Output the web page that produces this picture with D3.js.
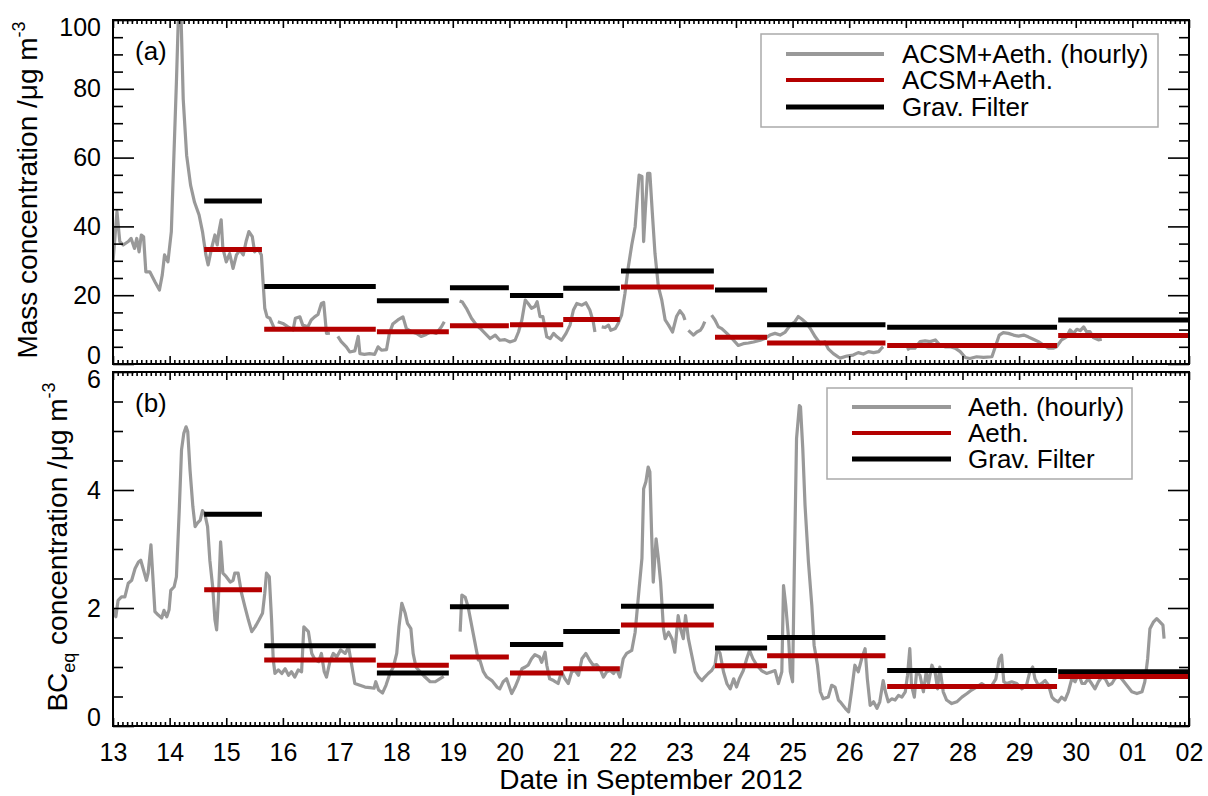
<!DOCTYPE html>
<html>
<head>
<meta charset="utf-8">
<script src="https://cdn.jsdelivr.net/npm/d3@7"></script>
<style>
  body { margin: 0; background: #fff; }
  svg text { font-family: 'Liberation Sans', Arial, Helvetica, sans-serif; fill: #000; }
</style>
</head>
<body>
<svg id="chart" width="1208" height="796"></svg>
<script>
// sampling periods of the gravimetric filters (day of Sept 2012, 32 = 2 Oct)
const periodStart = [14.61, 15.67, 17.66, 18.95, 20.01, 20.95, 21.97, 23.63, 24.55, 26.67, 29.69];
const periodEnd = [15.63, 17.64, 18.93, 19.99, 20.95, 21.95, 23.61, 24.55, 26.64, 29.67, 32.0];

// panel (a) filter-period averages
const massFilter = [47.4, 22.5, 18.4, 22.2, 19.9, 22.0, 27.0, 21.5, 11.4, 10.7, 12.8];
const massAcsm = [33.3, 10.1, 9.4, 11.1, 11.4, 12.9, 22.4, 7.8, 6.1, 5.4, 8.3];

// panel (b) filter-period averages
const bcFilter = [3.59, 1.36, 0.90, 2.02, 1.38, 1.60, 2.03, 1.32, 1.50, 0.94, 0.92];
const bcAeth = [2.31, 1.12, 1.03, 1.17, 0.90, 0.97, 1.71, 1.02, 1.19, 0.67, 0.84];

// hourly series [day, value]; null = gap in the record
const massHourly = [[13.00,29.7],[13.07,44.3],[13.12,35.6],[13.18,34.6],[13.27,35.6],[13.32,36.5],[13.38,33.6],[13.42,36.5],[13.46,32.6],[13.50,37.5],[13.54,37.0],[13.58,26.8],[13.65,26.8],[13.74,23.9],[13.82,21.5],[13.87,25.9],[13.91,31.7],[13.97,29.7],[14.03,38.5],[14.07,57.9],[14.12,82.0],[14.16,104],[14.20,102],[14.24,77.0],[14.30,60.7],[14.37,52.0],[14.44,47.0],[14.52,43.3],[14.58,38.5],[14.64,31.7],[14.68,28.8],[14.74,33.6],[14.80,37.5],[14.84,34.6],[14.87,38.5],[14.91,41.9],[14.94,33.6],[15.00,29.7],[15.06,32.1],[15.12,27.8],[15.18,31.7],[15.24,33.1],[15.30,31.7],[15.35,35.6],[15.40,38.5],[15.46,37.0],[15.50,32.6],[15.56,33.6],[15.62,31.7],[15.65,23.9],[15.68,16.2],[15.72,13.7],[15.77,13.3],[15.81,11.8],[15.85,10.3],[15.88,null],[15.91,12.3],[16.00,11.8],[16.09,10.8],[16.18,9.9],[16.22,13.3],[16.30,13.7],[16.35,11.3],[16.44,10.8],[16.50,12.8],[16.56,13.7],[16.62,14.4],[16.68,17.6],[16.72,17.9],[16.77,8.9],[16.83,9.0],[16.90,null],[16.97,8.0],[17.03,6.5],[17.12,5.0],[17.18,3.5],[17.27,3.8],[17.33,8.0],[17.36,3.0],[17.44,2.8],[17.53,3.0],[17.62,2.8],[17.68,5.0],[17.74,4.0],[17.83,4.2],[17.88,8.9],[17.94,11.6],[18.03,12.8],[18.12,13.7],[18.18,10.3],[18.27,9.4],[18.36,8.9],[18.44,8.0],[18.53,8.6],[18.62,9.4],[18.71,8.9],[18.80,10.8],[18.85,12.3],[18.95,null],[19.12,18.3],[19.17,18.0],[19.24,16.2],[19.33,13.3],[19.42,11.3],[19.48,10.4],[19.57,8.9],[19.66,7.4],[19.75,8.4],[19.83,6.9],[19.92,7.1],[20.01,6.4],[20.10,6.9],[20.16,9.3],[20.22,12.8],[20.28,18.6],[20.33,17.6],[20.39,16.2],[20.45,16.7],[20.49,18.1],[20.54,13.8],[20.59,13.8],[20.66,7.9],[20.72,7.4],[20.78,8.9],[20.84,7.9],[20.92,6.9],[21.00,8.9],[21.07,11.3],[21.13,15.7],[21.19,17.6],[21.28,17.1],[21.35,17.8],[21.42,15.7],[21.48,12.3],[21.51,9.3],[21.57,null],[21.63,10.8],[21.69,10.6],[21.75,11.3],[21.79,9.8],[21.87,10.3],[21.92,11.8],[21.98,14.2],[22.04,20.5],[22.10,28.3],[22.16,34.6],[22.22,39.9],[22.26,48.7],[22.29,54.9],[22.34,54.5],[22.37,35.6],[22.40,44.8],[22.44,55.4],[22.48,55.4],[22.52,44.8],[22.57,32.2],[22.63,22.5],[22.69,18.6],[22.75,12.8],[22.81,11.3],[22.88,9.3],[22.95,13.8],[23.01,15.5],[23.07,14.2],[23.10,12.8],[23.13,null],[23.16,9.8],[23.25,8.4],[23.31,9.3],[23.37,9.8],[23.41,10.8],[23.45,12.3],[23.51,null],[23.57,14.2],[23.63,12.8],[23.69,10.8],[23.75,10.3],[23.84,8.9],[23.93,7.4],[24.04,5.4],[24.13,5.9],[24.22,6.1],[24.31,6.4],[24.43,6.9],[24.51,7.4],[24.60,8.4],[24.69,8.9],[24.78,8.4],[24.87,9.3],[24.96,11.3],[25.04,12.3],[25.10,13.8],[25.16,13.1],[25.25,11.8],[25.31,10.4],[25.40,7.9],[25.49,5.9],[25.57,6.4],[25.63,4.4],[25.72,3.0],[25.81,2.0],[25.84,1.7],[25.96,2.3],[26.07,2.6],[26.16,3.3],[26.25,2.9],[26.34,3.6],[26.43,3.3],[26.52,3.6],[26.57,4.6],[26.60,5.0],[26.80,null],[27.02,4.1],[27.07,4.6],[27.16,4.6],[27.25,6.5],[27.34,6.7],[27.43,6.5],[27.52,7.0],[27.60,5.5],[27.69,5.0],[27.78,5.0],[27.87,4.6],[27.96,3.6],[28.05,1.9],[28.13,1.6],[28.25,2.1],[28.37,1.9],[28.52,2.1],[28.58,5.0],[28.65,8.4],[28.72,9.1],[28.81,8.9],[28.90,8.4],[28.99,8.1],[29.08,8.4],[29.16,7.9],[29.25,7.2],[29.34,6.5],[29.43,5.5],[29.52,4.6],[29.61,4.6],[29.66,5.0],[29.75,7.0],[29.84,7.9],[29.90,9.9],[29.96,8.9],[30.02,10.1],[30.08,9.7],[30.14,10.8],[30.19,9.4],[30.25,9.4],[30.31,7.7],[30.40,7.0],[30.46,7.2]];

const bcHourly = [[13.00,1.99],[13.05,1.85],[13.09,2.13],[13.15,2.19],[13.21,2.19],[13.27,2.42],[13.33,2.47],[13.39,2.67],[13.45,2.78],[13.49,2.81],[13.54,2.64],[13.59,2.47],[13.62,2.59],[13.67,3.07],[13.70,2.59],[13.74,1.94],[13.80,1.88],[13.86,1.83],[13.90,1.96],[13.95,1.85],[13.99,1.97],[14.02,2.30],[14.08,2.36],[14.12,2.53],[14.17,3.66],[14.21,4.68],[14.25,4.96],[14.29,5.07],[14.32,4.99],[14.36,4.34],[14.41,3.72],[14.45,3.38],[14.49,3.44],[14.54,3.49],[14.58,3.65],[14.62,3.60],[14.67,3.38],[14.71,2.81],[14.76,2.36],[14.80,1.80],[14.83,1.63],[14.86,2.13],[14.90,3.12],[14.94,2.59],[15.00,2.53],[15.07,2.44],[15.12,2.47],[15.15,2.59],[15.21,2.59],[15.27,2.25],[15.33,2.02],[15.39,1.80],[15.45,1.60],[15.51,1.68],[15.58,1.80],[15.64,1.91],[15.68,2.25],[15.71,2.59],[15.76,2.53],[15.80,1.80],[15.83,1.12],[15.86,0.89],[15.92,0.95],[15.98,0.89],[16.04,0.97],[16.10,0.86],[16.15,0.92],[16.21,0.83],[16.27,0.95],[16.33,0.92],[16.37,1.68],[16.45,1.60],[16.51,1.23],[16.57,1.12],[16.63,1.09],[16.68,1.23],[16.73,0.92],[16.77,0.83],[16.83,1.09],[16.89,1.23],[16.95,1.17],[17.02,1.29],[17.10,1.23],[17.16,1.34],[17.21,1.06],[17.27,0.72],[17.36,0.69],[17.45,0.66],[17.54,0.65],[17.61,0.64],[17.64,0.75],[17.69,0.61],[17.76,0.56],[17.82,0.69],[17.89,0.89],[17.95,1.00],[18.01,1.23],[18.05,1.68],[18.10,2.08],[18.16,1.91],[18.20,1.74],[18.26,1.65],[18.30,1.23],[18.35,1.00],[18.42,0.92],[18.51,0.83],[18.60,0.75],[18.69,0.75],[18.77,0.80],[18.84,0.84],[19.00,null],[19.13,1.60],[19.16,2.22],[19.22,2.18],[19.27,2.02],[19.36,1.57],[19.45,1.12],[19.48,1.11],[19.54,0.92],[19.60,0.83],[19.69,0.77],[19.78,0.66],[19.83,0.63],[19.89,0.75],[19.95,0.80],[20.00,0.66],[20.04,0.55],[20.10,0.66],[20.16,0.80],[20.22,0.97],[20.28,1.00],[20.33,1.03],[20.39,1.14],[20.45,1.21],[20.53,1.17],[20.57,1.08],[20.63,1.25],[20.66,1.03],[20.71,0.80],[20.78,0.77],[20.86,0.72],[20.92,0.92],[20.98,0.80],[21.04,0.72],[21.10,0.92],[21.16,0.94],[21.22,0.86],[21.28,1.14],[21.35,1.23],[21.42,1.11],[21.48,1.03],[21.54,1.04],[21.60,0.97],[21.66,0.83],[21.72,0.92],[21.78,0.94],[21.84,0.89],[21.89,0.97],[21.95,0.83],[22.01,1.14],[22.07,1.23],[22.16,1.28],[22.22,1.59],[22.29,2.33],[22.34,2.84],[22.37,4.02],[22.41,4.14],[22.45,4.39],[22.48,4.31],[22.51,3.29],[22.54,2.44],[22.59,3.17],[22.63,2.84],[22.67,2.44],[22.72,1.65],[22.75,1.48],[22.81,1.59],[22.87,1.48],[22.92,1.25],[22.98,1.87],[23.02,1.65],[23.07,1.48],[23.11,1.87],[23.16,1.48],[23.22,1.20],[23.28,0.92],[23.34,0.83],[23.40,0.77],[23.45,0.83],[23.51,0.89],[23.57,0.94],[23.63,1.03],[23.67,1.31],[23.72,1.23],[23.78,0.92],[23.84,0.72],[23.90,0.63],[23.96,0.80],[24.01,0.66],[24.06,0.80],[24.13,0.94],[24.19,1.14],[24.24,1.28],[24.30,1.14],[24.37,1.03],[24.45,0.94],[24.54,0.89],[24.63,0.92],[24.69,0.94],[24.75,0.72],[24.81,0.92],[24.84,2.38],[24.88,2.04],[24.93,1.48],[24.96,0.92],[25.00,0.75],[25.03,2.61],[25.07,4.87],[25.12,5.43],[25.14,5.41],[25.18,4.70],[25.22,3.74],[25.28,2.78],[25.34,2.04],[25.38,1.37],[25.44,1.03],[25.49,0.58],[25.54,0.46],[25.63,0.49],[25.69,0.69],[25.75,0.66],[25.81,0.44],[25.84,0.41],[25.93,0.30],[25.99,0.24],[26.04,0.58],[26.10,1.03],[26.16,0.92],[26.22,1.14],[26.28,1.31],[26.32,0.80],[26.37,0.35],[26.43,0.41],[26.49,0.30],[26.54,0.41],[26.60,0.77],[26.64,0.58],[26.69,0.41],[26.75,0.46],[26.81,0.44],[26.87,0.52],[26.93,0.49],[26.99,0.58],[27.03,0.86],[27.07,1.31],[27.10,0.69],[27.15,0.49],[27.19,0.92],[27.25,0.86],[27.31,0.58],[27.36,0.92],[27.40,0.72],[27.46,1.03],[27.52,0.89],[27.56,0.63],[27.60,1.00],[27.66,0.58],[27.72,0.44],[27.81,0.38],[27.90,0.41],[27.99,0.49],[28.08,0.55],[28.16,0.61],[28.25,0.66],[28.34,0.72],[28.43,0.66],[28.52,0.69],[28.59,0.80],[28.65,1.14],[28.69,1.20],[28.73,0.75],[28.78,0.72],[28.87,0.75],[28.96,0.72],[29.05,0.63],[29.13,0.69],[29.19,0.92],[29.24,1.00],[29.28,0.80],[29.34,0.69],[29.40,0.72],[29.46,0.77],[29.52,0.69],[29.58,0.49],[29.63,0.44],[29.69,0.41],[29.75,0.49],[29.81,0.44],[29.87,0.58],[29.93,0.80],[29.99,0.75],[30.05,0.89],[30.11,0.72],[30.16,0.72],[30.22,0.80],[30.28,0.72],[30.34,0.63],[30.40,0.75],[30.46,0.83],[30.52,0.80],[30.58,0.69],[30.64,0.72],[30.69,0.80],[30.75,0.86],[30.81,0.80],[30.90,0.69],[30.99,0.58],[31.08,0.55],[31.17,0.58],[31.22,0.75],[31.27,1.14],[31.31,1.65],[31.37,1.76],[31.43,1.82],[31.49,1.76],[31.54,1.71],[31.56,1.48]];

const dayTicks = [13, 14, 15, 16, 17, 18, 19, 20, 21, 22, 23, 24, 25, 26, 27, 28, 29, 30, 31, 32];
const dayLabels = ['13', '14', '15', '16', '17', '18', '19', '20', '21', '22', '23', '24', '25', '26', '27', '28', '29', '30', '01', '02'];
const massTicks = [0, 20, 40, 60, 80, 100];
const bcTicks = [0, 2, 4, 6];
const legendA = ['ACSM+Aeth. (hourly)', 'ACSM+Aeth.', 'Grav. Filter'];
const legendB = ['Aeth. (hourly)', 'Aeth.', 'Grav. Filter'];

const GRAY = '#999999';
const RED = '#b40000';
const left = 113, right = 1189;

const svg = d3.select('#chart');
const x = d3.scaleLinear().domain([13, 32]).range([left, right]);
const minorDays = d3.range(13, 32, 1 / 12).filter((d) => Math.abs(d - Math.round(d)) > 1e-6);

const panels = [
  { key: 'a', top: 20, bottom: 364, domain: [0, 100], major: massTicks, minorStep: 5, hourly: massHourly, avg: massAcsm, filter: massFilter, tag: '(a)', tagY: 60, legend: legendA, box: { x: 761, y: 34, w: 397, h: 93 }, lineX: [786, 884], textX: 902, rows: [54, 80, 107], labels: false },
  { key: 'b', top: 372, bottom: 726, domain: [0, 6], major: bcTicks, minorStep: 0.5, hourly: bcHourly, avg: bcAeth, filter: bcFilter, tag: '(b)', tagY: 412, legend: legendB, box: { x: 827, y: 388, w: 305, h: 91 }, lineX: [852, 951], textX: 968, rows: [407, 433, 459], labels: true }
];

function styleAxis(g) {
  g.select('.domain').remove();
  g.selectAll('.tick line').attr('stroke', '#000').attr('stroke-width', 1.6);
  g.selectAll('.tick text').style('font-size', '25px').attr('fill', '#000');
}

panels.forEach((p) => {
  const y = d3.scaleLinear().domain(p.domain).range([p.bottom, p.top]);
  const minorY = d3.range(p.domain[0], p.domain[1] + 1e-9, p.minorStep).filter((v) => !p.major.includes(+v.toFixed(3)));
  const g = svg.append('g').attr('class', `panel-${p.key}`);

  g.append('clipPath').attr('id', `clip-${p.key}`)
    .append('rect').attr('x', left).attr('y', p.top).attr('width', right - left).attr('height', p.bottom - p.top);

  // hourly trace
  const line = d3.line().defined((d) => d[1] !== null).x((d) => x(d[0])).y((d) => y(d[1]));
  g.append('path').datum(p.hourly).attr('clip-path', `url(#clip-${p.key})`)
    .attr('fill', 'none').attr('stroke', GRAY).attr('stroke-width', 3.2).attr('stroke-linejoin', 'round').attr('d', line);

  // filter-period averages
  const periods = periodStart.map((s, i) => ({ s, e: periodEnd[i], avg: p.avg[i], filter: p.filter[i] }));
  g.append('g').selectAll('line').data(periods).join('line')
    .attr('x1', (d) => x(d.s)).attr('x2', (d) => x(d.e))
    .attr('y1', (d) => y(d.filter)).attr('y2', (d) => y(d.filter))
    .attr('stroke', '#000').attr('stroke-width', 5);
  g.append('g').selectAll('line').data(periods).join('line')
    .attr('x1', (d) => x(d.s)).attr('x2', (d) => x(d.e))
    .attr('y1', (d) => y(d.avg)).attr('y2', (d) => y(d.avg))
    .attr('stroke', RED).attr('stroke-width', 5);

  // axes: ticks point inwards on all four sides
  const leftAx = g.append('g').attr('transform', `translate(${left},0)`)
    .call(d3.axisLeft(y).tickValues(p.major).tickSize(-21).tickPadding(12).tickFormat(d3.format('d')));
  styleAxis(leftAx);
  leftAx.selectAll('.tick text').attr('dy', (d) => (d === p.domain[0] ? '-1px' : d === p.domain[1] ? '15px' : '0.32em'));
  styleAxis(g.append('g').attr('transform', `translate(${left},0)`).call(d3.axisLeft(y).tickValues(minorY).tickSize(-10).tickFormat('')));
  styleAxis(g.append('g').attr('transform', `translate(${right},0)`).call(d3.axisRight(y).tickValues(p.major).tickSize(-21).tickFormat('')));
  styleAxis(g.append('g').attr('transform', `translate(${right},0)`).call(d3.axisRight(y).tickValues(minorY).tickSize(-10).tickFormat('')));

  const bottomAx = g.append('g').attr('transform', `translate(0,${p.bottom})`)
    .call(d3.axisBottom(x).tickValues(dayTicks).tickSize(-8).tickPadding(17).tickFormat((d, i) => (p.labels ? dayLabels[i] : '')));
  styleAxis(bottomAx);
  styleAxis(g.append('g').attr('transform', `translate(0,${p.bottom})`).call(d3.axisBottom(x).tickValues(minorDays).tickSize(-4).tickFormat('')));
  styleAxis(g.append('g').attr('transform', `translate(0,${p.top})`).call(d3.axisTop(x).tickValues(dayTicks).tickSize(-8).tickFormat('')));
  styleAxis(g.append('g').attr('transform', `translate(0,${p.top})`).call(d3.axisTop(x).tickValues(minorDays).tickSize(-4).tickFormat('')));

  g.append('rect').attr('x', left).attr('y', p.top).attr('width', right - left).attr('height', p.bottom - p.top)
    .attr('fill', 'none').attr('stroke', '#000').attr('stroke-width', 2);

  g.append('text').attr('x', 135).attr('y', p.tagY).style('font-size', '26px').text(p.tag);

  // legend
  const lg = g.append('g');
  lg.append('rect').attr('x', p.box.x).attr('y', p.box.y).attr('width', p.box.w).attr('height', p.box.h)
    .attr('fill', '#fff').attr('stroke', '#aaa').attr('stroke-width', 1.5);
  const legendStyles = [{ c: GRAY, w: 4 }, { c: RED, w: 4 }, { c: '#000', w: 5 }];
  p.legend.forEach((name, i) => {
    lg.append('line').attr('x1', p.lineX[0]).attr('x2', p.lineX[1]).attr('y1', p.rows[i]).attr('y2', p.rows[i])
      .attr('stroke', legendStyles[i].c).attr('stroke-width', legendStyles[i].w);
    lg.append('text').attr('x', p.textX).attr('y', p.rows[i] + 9).style('font-size', '26px').text(name);
  });
});

// axis titles
const titleA = svg.append('text').attr('transform', 'translate(37,190) rotate(-90)').attr('text-anchor', 'middle').style('font-size', '28px');
titleA.append('tspan').text('Mass concentration /μg m');
titleA.append('tspan').attr('dy', -12).style('font-size', '18px').text('-3');

const titleB = svg.append('text').attr('transform', 'translate(67,547) rotate(-90)').attr('text-anchor', 'middle').style('font-size', '28px');
titleB.append('tspan').text('BC');
titleB.append('tspan').attr('dy', 8).style('font-size', '18px').text('eq');
titleB.append('tspan').attr('dy', -8).text(' concentration /μg m');
titleB.append('tspan').attr('dy', -12).style('font-size', '18px').text('-3');

svg.append('text').attr('x', (left + right) / 2).attr('y', 789).attr('text-anchor', 'middle').style('font-size', '28px')
  .text('Date in September 2012');
</script>
</body>
</html>
